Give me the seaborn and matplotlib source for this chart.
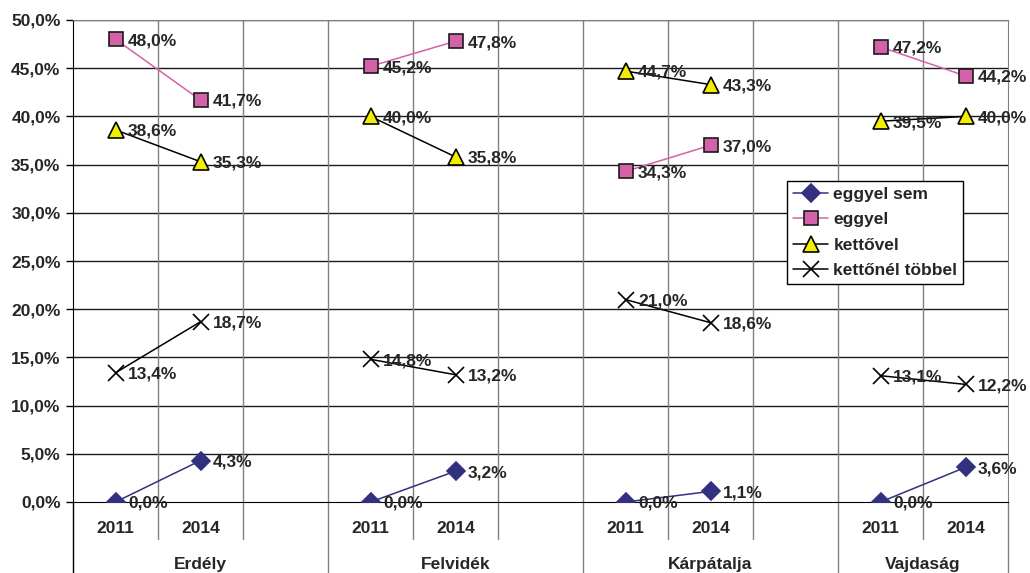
import numpy as np
import pandas as pd
import seaborn as sns
import matplotlib.pyplot as plt
from matplotlib.lines import Line2D
import matplotlib.transforms as mtransforms

regions = ["Erdély", "Felvidék", "Kárpátalja", "Vajdaság"]
years = ["2011", "2014"]
series = ["eggyel sem", "eggyel", "kettővel", "kettőnél többel"]

eggyel_sem = [0.0, 4.3, 0.0, 3.2, 0.0, 1.1, 0.0, 3.6]
eggyel = [48.0, 41.7, 45.2, 47.8, 34.3, 37.0, 47.2, 44.2]
kettovel = [38.6, 35.3, 40.0, 35.8, 44.7, 43.3, 39.5, 40.0]
tobbel = [13.4, 18.7, 14.8, 13.2, 21.0, 18.6, 13.1, 12.2]

rows = []
for name, vals in zip(series, [eggyel_sem, eggyel, kettovel, tobbel]):
    for g, reg in enumerate(regions):
        for j, yr in enumerate(years):
            rows.append({"series": name, "region": reg, "year": yr,
                         "pos": 3 * g + j, "value": vals[2 * g + j]})
df = pd.DataFrame(rows)

styles = {
    "eggyel sem": dict(color="#31317F", marker="D", mfc="#31317F", mec="#31317F", ms=9.5),
    "eggyel": dict(color="#D462A8", marker="s", mfc="#D462A8", mec="#1a1a1a", ms=10),
    "kettővel": dict(color="#000000", marker="^", mfc="#F2EE00", mec="#000000", ms=11),
    "kettőnél többel": dict(color="#000000", marker="x", mfc="none", mec="#000000", ms=11),
}

sns.set_style("white")
plt.rcParams["font.family"] = ["Liberation Sans", "DejaVu Sans"]
plt.rcParams["font.weight"] = "bold"
fs = 12.5

fig = plt.figure(figsize=(10.30, 5.73), dpi=100)
ax = fig.add_axes([73 / 1030, 1 - 502 / 573, 935 / 1030, 482 / 573])

for name in series:
    st = styles[name]
    sub = df[df["series"] == name]
    for reg in regions:
        part = sub[sub["region"] == reg]
        sns.lineplot(data=part, x="pos", y="value", ax=ax, color=st["color"],
                     marker=st["marker"], markerfacecolor=st["mfc"],
                     markeredgecolor=st["mec"], markersize=st["ms"],
                     markeredgewidth=1.2, linewidth=1.1, estimator=None,
                     legend=False, zorder=3)
    for _, r in sub.iterrows():
        ax.annotate(f"{r['value']:.1f}%".replace(".", ","), (r["pos"], r["value"]),
                    xytext=(9, -1), textcoords="offset points", va="center",
                    ha="left", fontsize=fs, fontweight="bold", zorder=4)

ax.set_xlim(-0.5, 10.5)
ax.set_ylim(0, 50)
ax.set_yticks(np.arange(0, 51, 5))
ax.set_yticklabels([f"{v:.1f}%".replace(".", ",") for v in np.arange(0, 51, 5)],
                   fontsize=fs, fontweight="bold")
ax.set_xticks([])
ax.set_xlabel("")
ax.set_ylabel("")
for v in np.arange(5, 51, 5):
    ax.axhline(v, color="#1a1a1a", linewidth=1.0, zorder=1)
for k in range(1, 11):
    ax.axvline(-0.5 + k, color="#808080", linewidth=1.0, zorder=1)
ax.tick_params(axis="y", direction="out", length=5, width=1, color="black", pad=4, left=True)

for side in ["top", "right"]:
    ax.spines[side].set_color("#808080")
ax.spines["left"].set_color("black")
ax.spines["bottom"].set_color("black")

# category boundary lines below the axis
trans = mtransforms.blended_transform_factory(ax.transData, ax.transAxes)
for k in range(12):
    x = -0.5 + k
    low = -0.147 if k % 3 == 0 or k == 11 else -0.077
    ax.plot([x, x], [0, low], transform=trans, color="#808080" if k else "black",
            linewidth=1.0, clip_on=False)
for g, reg in enumerate(regions):
    for j, yr in enumerate(years):
        ax.text(3 * g + j, -0.054, yr, transform=trans, ha="center", va="center",
                fontsize=fs, fontweight="bold")
    end = 3 * g + 2.5 if g < 3 else 10.5
    ax.text((3 * g - 0.5 + end) / 2, -0.13, reg, transform=trans, ha="center",
            va="center", fontsize=fs, fontweight="bold")

handles = []
for name in series:
    st = styles[name]
    handles.append(Line2D([0], [0], color=st["color"], marker=st["marker"],
                          markerfacecolor=st["mfc"], markeredgecolor=st["mec"],
                          markersize=st["ms"], markeredgewidth=1.2, linewidth=1.1))
leg = ax.legend(handles, series, loc="upper left", bbox_to_anchor=(0.764, 0.666),
                frameon=True, fancybox=False, edgecolor="black", framealpha=1,
                fontsize=fs, handlelength=2.0, handletextpad=0.3,
                labelspacing=0.58, borderpad=0.35, borderaxespad=0)
leg.get_frame().set_linewidth(1.0)
for t in leg.get_texts():
    t.set_fontweight("bold")

fig.savefig("out.png", dpi=100)
